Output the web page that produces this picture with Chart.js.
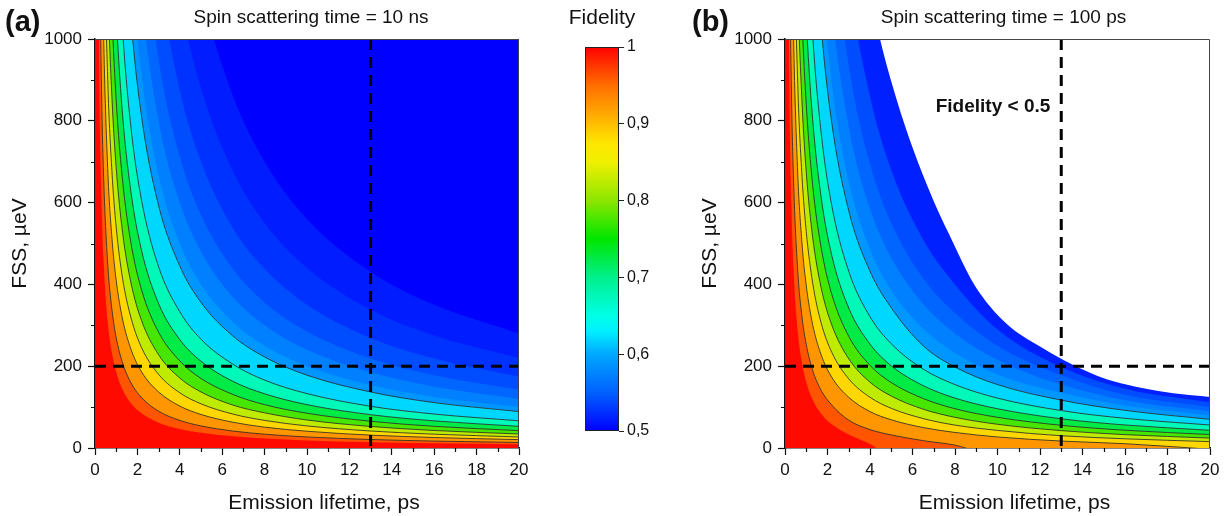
<!DOCTYPE html>
<html>
<head>
<meta charset="utf-8">
<script src="https://cdn.jsdelivr.net/npm/chart.js@4.4.1/dist/chart.umd.min.js"></script>
<style>
  html, body { margin: 0; padding: 0; background: #fff; }
  #wrap { position: relative; width: 1226px; height: 516px; overflow: hidden; }
  canvas { position: absolute; top: 0; }
  #chartA { left: 0; }
  #cbar { left: 560px; }
  #chartB { left: 690px; }
</style>
</head>
<body>
<div id="wrap">
  <canvas id="chartA" width="560" height="516"></canvas>
  <canvas id="cbar" width="120" height="516"></canvas>
  <canvas id="chartB" width="536" height="516"></canvas>
</div>
<script>
// fidelity maps - contour plots drawn as filled line datasets

// ==================== data ====================

// emission lifetimes (ps) where each contour was read
const lifetimes = [0, 0.1, 0.2, 0.3, 0.4, 0.6, 0.8, 1, 1.3, 1.7, 2.2, 3, 4, 5, 6.5, 8, 10, 13, 16, 20];

// (a) spin scattering 10 ns : FSS (µeV) on each fidelity level (3000 = off the top)
const a975 = [3000, 1860, 930, 620, 465, 310, 232, 186, 143, 109, 85, 62, 46.5, 37, 28.6, 23, 18.6, 14.3, 11.6, 9.3];
const a95 = [3000, 2700, 1350, 900, 675, 450, 338, 270, 208, 159, 123, 90, 67.5, 54, 41.5, 33.8, 27, 20.8, 16.9, 13.5];
const a90 = [3000, 3000, 2050, 1367, 1025, 683, 513, 410, 315, 241, 186, 137, 102.5, 82, 63, 51, 41, 31.5, 25.6, 20.5];
const a85 = [3000, 3000, 2700, 1800, 1350, 900, 675, 540, 415, 318, 245, 180, 135, 108, 83, 67.5, 54, 41.5, 33.8, 27];
const a80 = [3000, 3000, 3000, 2283, 1713, 1142, 856, 685, 527, 403, 311, 228, 171, 137, 105, 86, 68.5, 52.7, 42.8, 34.3];
const a75 = [3000, 3000, 3000, 2833, 2125, 1417, 1063, 850, 654, 500, 386, 283, 213, 170, 131, 106, 85, 65.4, 53, 42.5];
const a70 = [3000, 3000, 3000, 3000, 2650, 1767, 1325, 1060, 815, 624, 482, 353, 265, 212, 163, 132.5, 106, 81.5, 66.3, 53];
const a65 = [3000, 3000, 3000, 3000, 3000, 2217, 1663, 1330, 1023, 782, 605, 443, 333, 266, 205, 166, 133, 102, 83, 66.5];
const a60 = [3000, 3000, 3000, 3000, 3000, 2967, 2225, 1780, 1369, 1047, 809, 593, 445, 356, 274, 222.5, 178, 137, 111, 89];
const a58 = [3000, 3000, 3000, 3000, 3000, 3000, 2500, 2000, 1538, 1176, 909, 667, 500, 400, 308, 250, 200, 154, 125, 100];
const a56 = [3000, 3000, 3000, 3000, 3000, 3000, 3000, 2400, 1846, 1412, 1091, 800, 600, 480, 369, 300, 240, 185, 150, 120];
const a54 = [3000, 3000, 3000, 3000, 3000, 3000, 3000, 2850, 2192, 1676, 1295, 950, 713, 570, 438, 356, 285, 219, 178, 143];
const a52 = [3000, 3000, 3000, 3000, 3000, 3000, 3000, 3000, 2692, 2059, 1591, 1167, 875, 700, 538, 438, 350, 269, 219, 175];
const a51 = [3000, 3000, 3000, 3000, 3000, 3000, 3000, 3000, 3000, 2588, 2000, 1467, 1100, 880, 677, 550, 440, 338, 275, 220];
const a505 = [3000, 3000, 3000, 3000, 3000, 3000, 3000, 3000, 3000, 3000, 2545, 1867, 1400, 1120, 862, 700, 560, 431, 350, 280];

// (b) spin scattering 100 ps (negative = under the axis)
const b975 = [3000, 1836, 907, 596, 441, 286, 208, 161, 118, 84, 58, 33, 10, -20, -20, -20, -20, -20, -20, -20];
const b95 = [3000, 2683, 1333, 883, 658, 433, 320, 253, 190, 141, 105, 68, 45, 32, 18, 7, -20, -20, -20, -20];
const b90 = [3000, 3000, 2037, 1354, 1012, 670, 500, 397, 302, 228, 173, 124, 89, 69, 50, 38, 27, 17, 10.5, -3];
const b85 = [3000, 3000, 2689, 1789, 1339, 889, 664, 529, 404, 306, 234, 169, 124, 97, 72, 56, 43, 30, 22.5, 15.6];
const b80 = [3000, 3000, 3000, 2272, 1702, 1131, 846, 674, 516, 392, 301, 218, 161, 127, 95, 75, 58, 42.5, 32.7, 24.2];
const b75 = [3000, 3000, 3000, 2822, 2114, 1406, 1052, 840, 643, 490, 376, 273, 202, 160, 121, 96, 75, 55.5, 43.4, 33];
const b70 = [3000, 3000, 3000, 3000, 2639, 1756, 1314, 1049, 804, 613, 471, 342, 254, 201, 152.5, 122, 96, 71.4, 56.3, 43.3];
const b65 = [3000, 3000, 3000, 3000, 3000, 2205, 1651, 1318, 1011, 771, 593, 432, 321, 255, 193, 155, 122, 91.5, 72.6, 56.2];
const b60 = [3000, 3000, 3000, 3000, 3000, 2953, 2211, 1766, 1355, 1033, 795, 580, 432, 343, 250, 198, 155, 117, 92, 70];
const b58 = [3000, 3000, 3000, 3000, 3000, 3000, 2500, 1985, 1525, 1160, 893, 652, 486, 386, 292, 232, 180, 135, 104, 80];
const b56 = [3000, 3000, 3000, 3000, 3000, 3000, 3000, 2380, 1830, 1395, 1075, 785, 585, 465, 352, 280, 215, 155, 117, 90];
const b54 = [3000, 3000, 3000, 3000, 3000, 3000, 3000, 2830, 2170, 1660, 1280, 935, 695, 550, 415, 330, 250, 178, 130, 100];
const b52 = [3000, 3000, 3000, 3000, 3000, 3000, 3000, 3000, 2680, 2050, 1580, 1150, 860, 680, 510, 400, 290, 198, 145, 112];

// (b) edge of the "Fidelity < 0.5" area
const bLimitLifetime = [0, 3.5, 4, 4.47, 5.26, 6.04, 6.98, 7.7, 8.9, 10.4, 12, 13.1, 14.35, 15.45, 16.86, 18.27, 20];
const bLimitFss = [3000, 1280, 1115, 1000, 851, 729, 606, 525, 400, 305, 248, 215, 184, 163, 146, 134, 125];

// band colour above each level
const colorsA = ['#ff5400', '#ff9600', '#ffd700', '#beeb00', '#46e600', '#00eb46', '#00f8b9', '#00d7ff',
  '#0096ff', '#0080ff', '#0066ff', '#004cff', '#0032ff', '#001cff', '#0000ff'];
const colorsB = ['#ff5400', '#ff9600', '#ffd700', '#beeb00', '#46e600', '#00eb46', '#00f8b9', '#00d7ff',
  '#0096ff', '#0080ff', '#0066ff', '#004cff', '#0020ff', '#ffffff'];
const strokedA = [false, true, true, true, true, true, true, true, true, false, false, false, false, false, false];
const strokedB = [false, true, true, true, true, true, true, true, true, false, false, false, false, false];

// dashed guide lines
const markerLifetime = 13;
const markerFss = 200;

// colour bar (fidelity value -> colour)
const cbarStops = [0.5, 0.55, 0.6, 0.63, 0.65, 0.7, 0.75, 0.8, 0.85, 0.875, 0.9, 0.95, 1];
const cbarColors = ['#0000ff', '#0060ff', '#00a8ff', '#00f0ff', '#00ffe6', '#00f08c', '#00e600', '#8ce600',
  '#f0f000', '#ffe600', '#ffbe00', '#ff6e00', '#ff0000'];

// axis ticks
const minorLifetimeTicks = [1, 3, 5, 7, 9, 11, 13, 15, 17, 19];
const minorFssTicks = [100, 300, 500, 700, 900];

// ==================== styles ====================

const FONT = '"Liberation Sans", Arial, sans-serif';
const CONTOUR_COLOR = 'rgba(45, 45, 45, 0.85)';
const BACKGROUND_RED = '#ff0a00';

Chart.defaults.font.family = FONT;
Chart.defaults.color = '#111';

// ==================== plugin ====================

const panelPlugin = {
  id: 'panel',
  beforeDatasetsDraw(chart, args, opts) {
    if (!opts.background) return;
    const a = chart.chartArea;
    const ctx = chart.ctx;
    ctx.save();
    ctx.fillStyle = opts.background;
    ctx.fillRect(a.left, a.top, a.right - a.left, a.bottom - a.top);
    ctx.restore();
  },
  afterDraw(chart, args, opts) {
    const ctx = chart.ctx;
    const a = chart.chartArea;
    ctx.save();

    // thin frame on top and right
    ctx.strokeStyle = opts.frameColor || '#444';
    ctx.lineWidth = 1;
    ctx.beginPath();
    if (opts.fullFrame) {
      ctx.rect(a.left + 0.5, a.top + 0.5, a.right - a.left - 1, a.bottom - a.top - 1);
    } else {
      ctx.moveTo(a.left, a.top + 0.5);
      ctx.lineTo(a.right - 0.5, a.top + 0.5);
      ctx.lineTo(a.right - 0.5, a.bottom);
    }
    ctx.stroke();

    // minor ticks
    if (opts.minorX) {
      ctx.strokeStyle = '#111';
      ctx.lineWidth = 1.2;
      ctx.beginPath();
      opts.minorX.forEach((v) => {
        const px = Math.round(chart.scales.x.getPixelForValue(v)) + 0.5;
        ctx.moveTo(px, a.bottom);
        ctx.lineTo(px, a.bottom + 4);
      });
      opts.minorY.forEach((v) => {
        const py = Math.round(chart.scales.y.getPixelForValue(v)) + 0.5;
        ctx.moveTo(a.left, py);
        ctx.lineTo(a.left - 4, py);
      });
      ctx.stroke();
    }

    // texts
    ctx.fillStyle = '#111';
    ctx.textBaseline = 'middle';
    if (opts.letter) {
      ctx.font = 'bold 29px ' + FONT;
      ctx.textAlign = 'left';
      ctx.fillText(opts.letter, opts.letterX, 23);
    }
    if (opts.title) {
      ctx.font = '19px ' + FONT;
      ctx.textAlign = 'center';
      ctx.fillText(opts.title, (a.left + a.right) / 2 + (opts.titleShift || 0), 18);
    }
    if (opts.xTitle) {
      ctx.font = '21px ' + FONT;
      ctx.textAlign = 'center';
      ctx.fillText(opts.xTitle, (a.left + a.right) / 2 + 17, 503);
    }
    if (opts.note) {
      ctx.font = 'bold 19px ' + FONT;
      ctx.textAlign = 'center';
      ctx.fillText(opts.note, opts.noteX, opts.noteY);
    }
    ctx.restore();
  },
};

// ==================== dataset builders ====================

function levelDataset(xs, ys, color, stroked) {
  return {
    data: xs.map((x, i) => ({ x: x, y: ys[i] })),
    fill: 'end',
    backgroundColor: color,
    borderColor: stroked ? CONTOUR_COLOR : 'rgba(0,0,0,0)',
    borderWidth: stroked ? 1 : 0,
    cubicInterpolationMode: 'monotone',
  };
}

function markerDatasets() {
  const dash = { borderColor: '#000', borderWidth: 3, borderDash: [11, 7], fill: false };
  return [
    Object.assign({ data: [{ x: 0, y: markerFss }, { x: 20, y: markerFss }] }, dash),
    Object.assign({ data: [{ x: markerLifetime, y: 1000 }, { x: markerLifetime, y: 0 }] }, dash),
  ];
}

function withOrder(datasets) {
  // first dataset at the bottom
  datasets.forEach((d, i) => { d.order = -i; });
  return datasets;
}

function panelOptions(rightPad, panel) {
  return {
    responsive: false,
    animation: false,
    events: [],
    devicePixelRatio: 1,
    layout: { padding: { left: 0, top: 39, right: rightPad, bottom: 0 } },
    elements: {
      point: { radius: 0, hitRadius: 0 },
      line: { capBezierPoints: false, tension: 0 },
    },
    plugins: {
      legend: { display: false },
      tooltip: { enabled: false },
      panel: panel,
    },
    scales: {
      x: {
        type: 'linear',
        min: 0,
        max: 20,
        z: 1,
        ticks: { stepSize: 2, font: { size: 17 }, padding: 5, color: '#111', maxRotation: 0 },
        grid: { drawOnChartArea: false, tickLength: 7, color: '#111', tickWidth: 1.2 },
        border: { color: '#111', width: 1.5 },
        afterFit: (s) => { s.height = 68; },
      },
      y: {
        type: 'linear',
        min: 0,
        max: 1000,
        z: 1,
        ticks: { stepSize: 200, font: { size: 17 }, padding: 6, color: '#111', callback: (v) => String(v) },
        grid: { drawOnChartArea: false, tickLength: 7, color: '#111', tickWidth: 1.2 },
        border: { color: '#111', width: 1.5 },
        title: { display: true, text: 'FSS, µeV', font: { size: 21 }, color: '#111', padding: { top: 8, bottom: 0 } },
        afterFit: (s) => { s.width = 95; },
      },
    },
  };
}

// ==================== panel (a) ====================

function createPanelA() {
  const levels = [a975, a95, a90, a85, a80, a75, a70, a65, a60, a58, a56, a54, a52, a51, a505];
  const datasets = levels.map((ys, i) => levelDataset(lifetimes, ys, colorsA[i], strokedA[i]));

  new Chart(document.getElementById('chartA'), {
    type: 'line',
    data: { datasets: withOrder(datasets.concat(markerDatasets())) },
    options: panelOptions(41, {
      background: BACKGROUND_RED,
      letter: '(a)',
      letterX: 5,
      title: 'Spin scattering time = 10 ns',
      titleShift: 4,
      xTitle: 'Emission lifetime, ps',
      minorX: minorLifetimeTicks,
      minorY: minorFssTicks,
    }),
    plugins: [panelPlugin],
  });
}

// ==================== panel (b) ====================

function createPanelB() {
  const levels = [b975, b95, b90, b85, b80, b75, b70, b65, b60, b58, b56, b54, b52];
  const datasets = levels.map((ys, i) => levelDataset(lifetimes, ys, colorsB[i], strokedB[i]));
  datasets.push(levelDataset(bLimitLifetime, bLimitFss, colorsB[levels.length], false));

  new Chart(document.getElementById('chartB'), {
    type: 'line',
    data: { datasets: withOrder(datasets.concat(markerDatasets())) },
    options: panelOptions(16, {
      background: BACKGROUND_RED,
      letter: '(b)',
      letterX: 2,
      title: 'Spin scattering time = 100 ps',
      titleShift: 6,
      xTitle: 'Emission lifetime, ps',
      note: 'Fidelity < 0.5',
      noteX: 303,
      noteY: 107,
      minorX: minorLifetimeTicks,
      minorY: minorFssTicks,
    }),
    plugins: [panelPlugin],
  });
}

// ==================== colour bar ====================

function colorBarFill(context) {
  const chart = context.chart;
  const a = chart.chartArea;
  if (!a) return cbarColors[0];
  const y = chart.scales.y;
  const grad = chart.ctx.createLinearGradient(0, y.getPixelForValue(0.5), 0, y.getPixelForValue(1));
  cbarStops.forEach((v, i) => grad.addColorStop((v - 0.5) / 0.5, cbarColors[i]));
  return grad;
}

function createColorBar() {
  new Chart(document.getElementById('cbar'), {
    type: 'bar',
    data: {
      labels: ['F'],
      datasets: [{
        data: [[cbarStops[0], cbarStops[cbarStops.length - 1]]],
        backgroundColor: colorBarFill,
        borderWidth: 0,
        barPercentage: 1,
        categoryPercentage: 1,
      }],
    },
    options: {
      responsive: false,
      animation: false,
      events: [],
      devicePixelRatio: 1,
      layout: { padding: { left: 25, top: 47, right: 21, bottom: 85 } },
      plugins: {
        legend: { display: false },
        tooltip: { enabled: false },
        panel: { fullFrame: true, frameColor: '#222' },
      },
      scales: {
        x: { display: false },
        y: {
          position: 'right',
          min: 0.5,
          max: 1,
          z: 1,
          ticks: {
            stepSize: 0.1,
            font: { size: 16 },
            padding: 3,
            color: '#111',
            callback: (v) => String(Math.round(v * 10) / 10).replace('.', ','),
          },
          grid: { drawOnChartArea: false, tickLength: 5, color: '#222' },
          border: { display: false },
          afterFit: (s) => { s.width = 40; },
        },
      },
    },
    plugins: [panelPlugin, {
      id: 'cbarTitle',
      afterDraw(chart) {
        const ctx = chart.ctx;
        const a = chart.chartArea;
        ctx.save();
        ctx.font = '21px ' + FONT;
        ctx.fillStyle = '#111';
        ctx.textAlign = 'center';
        ctx.textBaseline = 'middle';
        ctx.fillText('Fidelity', (a.left + a.right) / 2, 18);
        ctx.restore();
      },
    }],
  });
}

createPanelA();
createColorBar();
createPanelB();
</script>
</body>
</html>
